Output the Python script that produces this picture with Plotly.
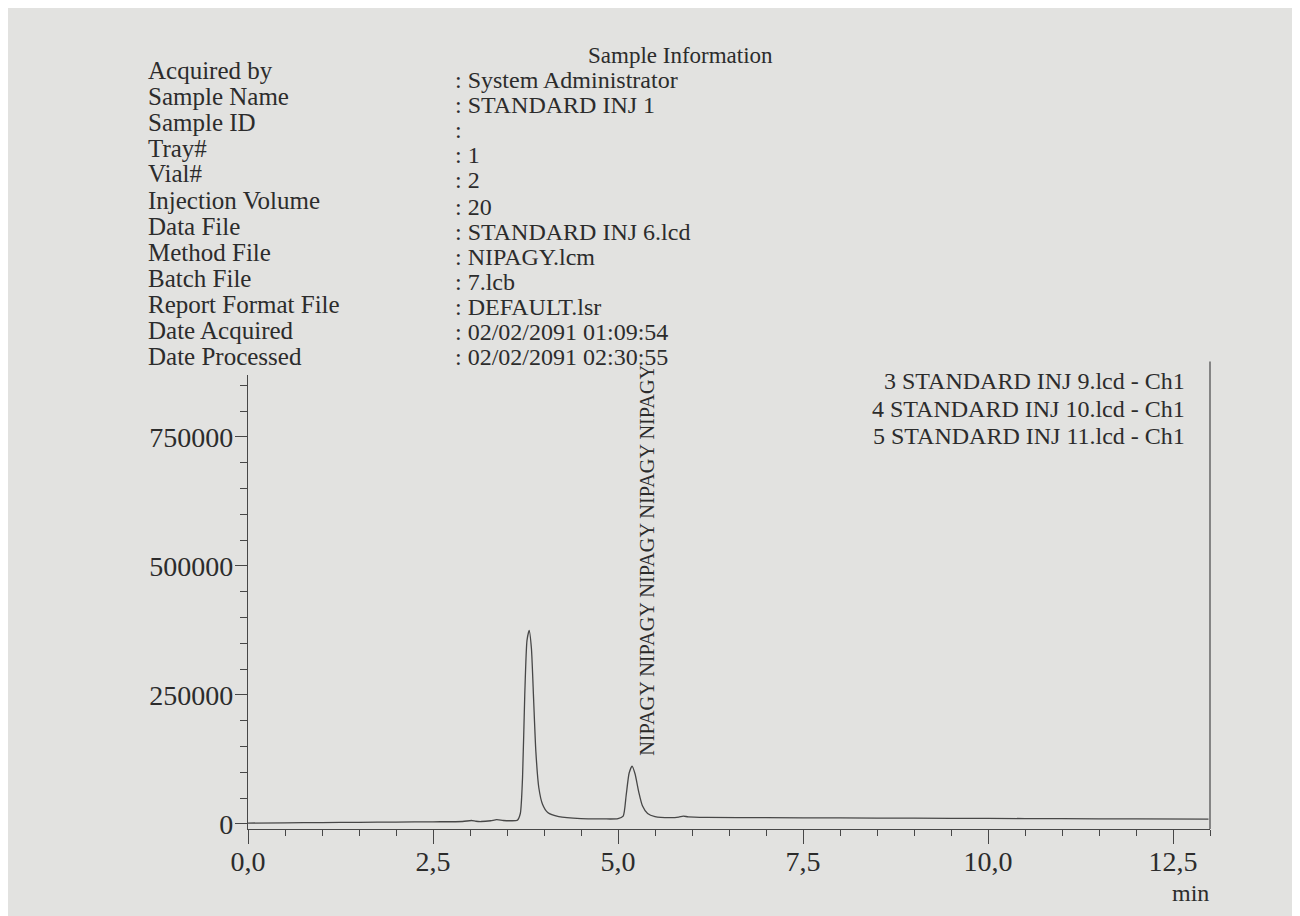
import plotly.graph_objects as go

# ---------------- data ----------------
time_min = [0.0, 0.5, 1.0, 1.5, 2.0, 2.5, 2.9, 3.02, 3.08, 3.15, 3.28, 3.36, 3.45,
            3.55, 3.64, 3.68, 3.71, 3.74, 3.77, 3.80, 3.83, 3.86, 3.89, 3.93, 3.98,
            4.05, 4.2, 4.5, 4.8, 5.0, 5.07, 5.11, 5.15, 5.19, 5.23, 5.28, 5.33,
            5.40, 5.5, 5.7, 5.82, 5.88, 5.95, 6.2, 7.0, 8.0, 9.0, 10.0, 11.0,
            12.0, 12.98]
signal = [1500, 2000, 2500, 3000, 3500, 4000, 4500, 6500, 5000, 4500, 6000, 8000, 6500,
          6000, 7000, 20000, 90000, 250000, 355000, 375000, 340000, 240000, 140000,
          70000, 38000, 22000, 14000, 10000, 9500, 10000, 15000, 55000, 98000, 112000,
          97000, 62000, 35000, 20000, 14000, 12000, 13000, 15000, 13500, 12500,
          12000, 11500, 11000, 10500, 10000, 9500, 9000]

x_tick_vals = [0.0, 2.5, 5.0, 7.5, 10.0, 12.5]
x_tick_text = ["0,0", "2,5", "5,0", "7,5", "10,0", "12,5"]
y_tick_vals = [0, 250000, 500000, 750000]
y_tick_text = ["0", "250000", "500000", "750000"]

info_labels = ["Acquired by", "Sample Name", "Sample ID", "Tray#", "Vial#",
               "Injection Volume", "Data File", "Method File", "Batch File",
               "Report Format File", "Date Acquired", "Date Processed"]
info_values = [": System Administrator", ": STANDARD INJ 1", ":", ": 1", ": 2", ": 20",
               ": STANDARD INJ 6.lcd", ": NIPAGY.lcm", ": 7.lcb", ": DEFAULT.lsr",
               ": 02/02/2091 01:09:54", ": 02/02/2091 02:30:55"]
legend_lines = ["3 STANDARD INJ 9.lcd - Ch1", "4 STANDARD INJ 10.lcd - Ch1",
                "5 STANDARD INJ 11.lcd - Ch1"]
peak_label = "NIPAGY"
peak_label_count = 5

# ---------------- layout geometry (pixels) ----------------
W, H = 1300, 916
OFF = 8                      # page offset of the figure inside the browser window
L, R, T, B = 240, 98, 367, 95
PW, PH = W - L - R, H - T - B

def px(xs):
    """screen x pixel -> paper x"""
    return (xs - OFF - L) / PW

def py(ys):
    """screen y pixel -> paper y"""
    return (H - B - (ys - OFF)) / PH

BG = "#e2e2e0"
INK = "#2c2c2c"
LINE = "#474747"
FONT = "Liberation Serif, Times New Roman, serif"

fig = go.Figure()
fig.add_trace(go.Scatter(x=time_min, y=signal, mode="lines",
                         line=dict(color=LINE, width=1.3, shape="spline", smoothing=0.6),
                         hoverinfo="skip", showlegend=False))

annotations = []
# header
annotations.append(dict(text="Sample Information", x=px(680), y=py(55), xref="paper", yref="paper",
                        xanchor="center", yanchor="middle", showarrow=False, borderpad=0,
                        font=dict(size=23, color=INK, family=FONT)))
label_y = [71, 97, 122, 148, 173, 201, 227, 253, 279, 305, 331, 357]
value_y = [80, 105, 130, 155, 180, 207, 232, 257, 282, 307, 332, 357]
for lab, yy in zip(info_labels, label_y):
    annotations.append(dict(text=lab, x=px(147), y=py(yy), xref="paper", yref="paper",
                            xanchor="left", yanchor="middle", showarrow=False, borderpad=0,
                            font=dict(size=25, color=INK, family=FONT)))
for val, yy in zip(info_values, value_y):
    annotations.append(dict(text=val, x=px(454), y=py(yy), xref="paper", yref="paper",
                            xanchor="left", yanchor="middle", showarrow=False, borderpad=0,
                            font=dict(size=24, color=INK, family=FONT)))
# file list at the top right
for i, line in enumerate(legend_lines):
    annotations.append(dict(text=line, x=px(1186), y=py(381 + 27.5 * i), xref="paper", yref="paper",
                            xanchor="right", yanchor="middle", showarrow=False, borderpad=0,
                            font=dict(size=24, color=INK, family=FONT)))
# peak label (vertical), placed above the second peak
i2 = max(range(len(time_min)), key=lambda k: signal[k] if time_min[k] > 4.5 else -1)
annotations.append(dict(text=" ".join([peak_label] * peak_label_count),
                        x=time_min[i2] + 0.21, y=signal[i2] + 18000, xref="x", yref="y",
                        xanchor="center", yanchor="bottom", textangle=-90, showarrow=False,
                        borderpad=0, font=dict(size=20.3, color=INK, family=FONT)))
# axis unit
annotations.append(dict(text="min", x=px(1190), y=py(893), xref="paper", yref="paper",
                        xanchor="center", yanchor="middle", showarrow=False, borderpad=0,
                        font=dict(size=24, color=INK, family=FONT)))

shapes = [dict(type="line", xref="paper", yref="paper", x0=1, x1=1, y0=0, y1=1.03,
               line=dict(color=LINE, width=1.2))]

fig.update_layout(
    width=W, height=H,
    margin=dict(l=L, r=R, t=T, b=B, pad=0),
    paper_bgcolor=BG, plot_bgcolor=BG,
    font=dict(family=FONT, color=INK),
    annotations=annotations, shapes=shapes,
    showlegend=False,
    xaxis=dict(range=[0, 13.0], showgrid=False, zeroline=False, showline=True,
               linecolor=LINE, linewidth=1.2, ticks="outside", ticklen=14, tickwidth=1.2,
               tickcolor=LINE, tickvals=x_tick_vals, ticktext=x_tick_text,
               ticklabelstandoff=-7,
               tickfont=dict(size=28, color=INK, family=FONT),
               minor=dict(tick0=0, dtick=0.5, ticks="outside", ticklen=6, tickwidth=1,
                          tickcolor=LINE, showgrid=False)),
    yaxis=dict(range=[-10000, 870000], showgrid=False, zeroline=False, showline=True,
               linecolor=LINE, linewidth=1.2, ticks="outside", ticklen=12, tickwidth=1.2,
               tickcolor=LINE, tickvals=y_tick_vals, ticktext=y_tick_text,
               ticklabelstandoff=-4,
               tickfont=dict(size=28, color=INK, family=FONT),
               minor=dict(tick0=0, dtick=50000, ticks="outside", ticklen=7, tickwidth=1,
                          tickcolor=LINE, showgrid=False)),
)

fig.write_html("out.html")
